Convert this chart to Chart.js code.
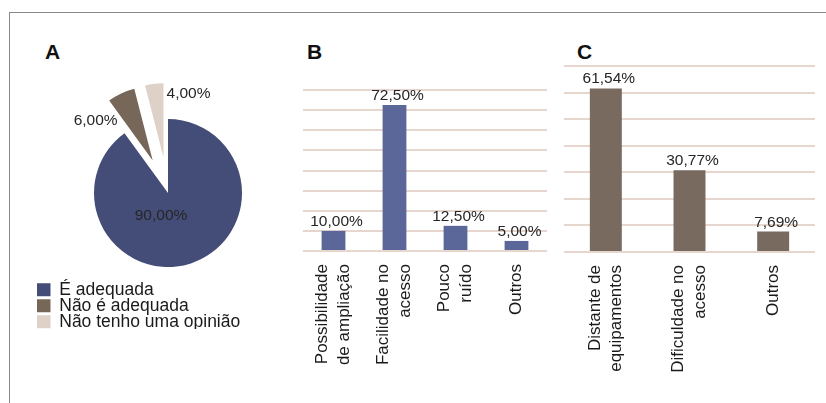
<!DOCTYPE html>
<html>
<head>
<meta charset="utf-8">
<script src="https://cdn.jsdelivr.net/npm/chart.js@4.4.1/dist/chart.umd.min.js"></script>
<style>
  body { margin: 0; background: #fff; width: 826px; height: 403px; position: relative; overflow: hidden; font-family: 'Liberation Sans', Arial, sans-serif; }
  .frame { position: absolute; left: 9px; top: 12px; right: 0; bottom: 0; border-top: 1px solid #8c8a87; border-left: 1px solid #8c8a87; }
  .letter { position: absolute; font-weight: bold; font-size: 21px; line-height: 20px; color: #111; }
  canvas { position: absolute; }
</style>
</head>
<body>
<div class="frame"></div>
<div class="letter" style="left:45px; top:42px;">A</div>
<div class="letter" style="left:307px; top:42px;">B</div>
<div class="letter" style="left:577px; top:42px;">C</div>

<canvas id="pieChart" width="262" height="272" style="left:37px; top:57px;"></canvas>
<canvas id="barB" width="264" height="316" style="left:293px; top:80px;"></canvas>
<canvas id="barC" width="271" height="341" style="left:554px; top:56px;"></canvas>

<script>
// Painel A - opinião
const pieLabels = ['É adequada', 'Não é adequada', 'Não tenho uma opinião'];
const pieValues = [90, 6, 4];
const pieColors = ['#444D78', '#776759', '#DDD1C8'];

// Painel B
const bLabels = [['Possibilidade', 'de ampliação'], ['Facilidade no', 'acesso'], ['Pouco', 'ruído'], 'Outros'];
const bValues = [10, 72.5, 12.5, 5];

// Painel C
const cLabels = [['Distante de', 'equipamentos'], ['Dificuldade no', 'acesso'], 'Outros'];
const cValues = [61.54, 30.77, 7.69];

const fontFamily = "'Liberation Sans', Arial, sans-serif";
const textColor = '#262626';
const gridColor = '#E6D6CD';
const tickLineHeight = 17 * 1.28;

Chart.defaults.font.family = fontFamily;
Chart.defaults.color = textColor;

function fmt(v) {
    return v.toFixed(2).replace('.', ',') + '%';
}

// pushes the small slices out of the pie
const explode = {
    id: 'explode',
    afterDatasetUpdate(chart, args, opts) {
        args.meta.data.forEach((arc, i) => {
            const d = opts.distance[i] || 0;
            if (!d) return;
            const mid = (arc.startAngle + arc.endAngle) / 2;
            arc.x += Math.cos(mid) * d;
            arc.y += Math.sin(mid) * d;
        });
    }
};

// value labels on bars / slices
const valueLabels = {
    id: 'valueLabels',
    afterDatasetsDraw(chart, args, opts) {
        const ctx = chart.ctx;
        const meta = chart.getDatasetMeta(0);
        const values = chart.data.datasets[0].data;
        ctx.save();
        ctx.font = opts.font;
        ctx.fillStyle = textColor;
        ctx.textAlign = 'center';
        meta.data.forEach((el, i) => {
            if (opts.shift) {
                ctx.textBaseline = 'middle';
                ctx.fillText(fmt(values[i]), el.x + opts.shift[i][0], el.y + opts.shift[i][1]);
            } else {
                ctx.textBaseline = 'alphabetic';
                ctx.fillText(fmt(values[i]), el.x + opts.dx, el.y - opts.gap);
            }
        });
        ctx.restore();
    }
};

new Chart(document.getElementById('pieChart'), {
    type: 'pie',
    data: {
        labels: pieLabels,
        datasets: [{
            data: pieValues,
            backgroundColor: pieColors,
            borderWidth: 0
        }]
    },
    options: {
        responsive: false,
        animation: false,
        radius: 74,
        layout: { padding: 0 },
        plugins: {
            tooltip: { enabled: false },
            legend: {
                position: 'chartArea',
                align: 'end',
                labels: {
                    boxWidth: 15,
                    boxHeight: 13,
                    padding: -1.5,
                    color: '#1a1a1a',
                    font: { size: 17.5 }
                }
            },
            explode: { distance: [0, 36, 36] },
            valueLabels: {
                font: '15.5px ' + fontFamily,
                shift: [[-7, 23], [-57, -40], [25, -64]]
            }
        }
    },
    plugins: [explode, valueLabels]
});

function isSingleLine(c) {
    return !Array.isArray(c.chart.data.labels[c.index]);
}

function barOptions(maxY, barPct) {
    return {
        responsive: false,
        animation: false,
        layout: { padding: { left: 10, right: 10, top: 10, bottom: 25 } },
        datasets: { bar: { categoryPercentage: 1, barPercentage: barPct } },
        scales: {
            x: {
                grid: { display: false, drawTicks: false },
                border: { display: false },
                ticks: {
                    autoSkip: false,
                    minRotation: 90,
                    maxRotation: 90,
                    padding: 13,
                    color: '#1a1a1a',
                    font: { size: 17, lineHeight: 1.28 },
                    // two-line labels centred on the tick as a block;
                    // the (invisible) backdrop keeps single lines on the tick
                    labelOffset: -tickLineHeight / 2,
                    showLabelBackdrop: isSingleLine,
                    backdropColor: 'rgba(255,255,255,0)'
                },
                afterFit(scale) { scale.height = 120; }
            },
            y: {
                min: 0,
                max: maxY,
                ticks: { display: false, stepSize: 10 },
                border: { display: false },
                grid: { color: gridColor, lineWidth: 2, drawTicks: false },
                afterFit(scale) { scale.width = 0; }
            }
        },
        plugins: {
            legend: { display: false },
            tooltip: { enabled: false },
            valueLabels: { font: '15.5px ' + fontFamily, dx: 3, gap: 5 }
        }
    };
}

new Chart(document.getElementById('barB'), {
    type: 'bar',
    data: {
        labels: bLabels,
        datasets: [{ data: bValues, backgroundColor: '#5B6699', borderWidth: 0 }]
    },
    options: barOptions(80, 0.39),
    plugins: [valueLabels]
});

new Chart(document.getElementById('barC'), {
    type: 'bar',
    data: {
        labels: cLabels,
        datasets: [{ data: cValues, backgroundColor: '#786A5F', borderWidth: 0 }]
    },
    options: barOptions(70, 0.382),
    plugins: [valueLabels]
});
</script>
</body>
</html>
